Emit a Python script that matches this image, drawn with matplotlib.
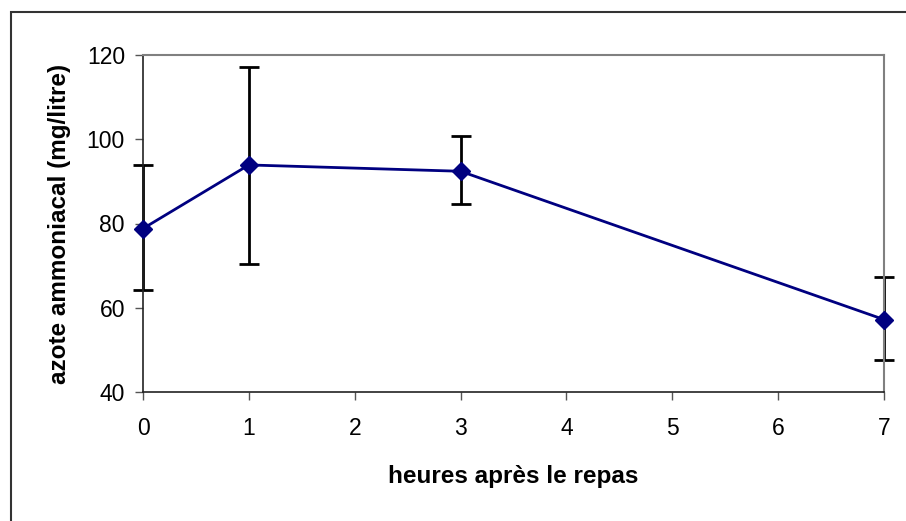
import matplotlib.pyplot as plt
from matplotlib.patches import Rectangle

plt.rcParams['font.family'] = ['Liberation Sans', 'DejaVu Sans']

# data
hours = [0, 1, 3, 7]
nh3 = [78.8, 93.9, 92.4, 57.2]
err_low = [64.2, 70.4, 84.6, 47.7]
err_high = [93.9, 117.2, 100.7, 67.2]

yerr = [[m - lo for m, lo in zip(nh3, err_low)],
        [hi - m for m, hi in zip(nh3, err_high)]]

fig = plt.figure(figsize=(9.06, 5.21), dpi=100)
ax = fig.add_axes([143 / 906, 1 - 392 / 521, 741 / 906, 337 / 521])

# outer chart border (runs off the right and bottom edges)
fig.patches.append(Rectangle((11 / 906, -0.1), 1.0, (521 - 12) / 521 + 0.1,
                             transform=fig.transFigure, fill=False,
                             edgecolor='#333333', linewidth=1.5))

_, caps, bars = ax.errorbar(hours, nh3, yerr=yerr, fmt='none', ecolor='black',
                            elinewidth=2, capsize=7, capthick=2, zorder=2)
for c in caps:
    c.set_clip_on(False)
for b in bars:
    b.set_clip_on(False)
ax.plot(hours, nh3, color='#000080', linewidth=2, marker='D', markersize=9,
        markerfacecolor='#000080', markeredgecolor='#000080', zorder=3, clip_on=False)

ax.set_xlim(0, 7)
ax.set_ylim(40, 120)
ax.set_xticks(range(0, 8))
ax.set_yticks(range(40, 121, 20))

for s in ['top', 'right']:
    ax.spines[s].set_color('#808080')
    ax.spines[s].set_linewidth(1.5)
for s in ['left', 'bottom']:
    ax.spines[s].set_color('#222222')
    ax.spines[s].set_linewidth(1.2)

ax.tick_params(direction='out', length=6, width=1, color='#555555', labelsize=16.5)
ax.tick_params(axis='y', pad=7)
ax.tick_params(axis='x', pad=12)

ax.set_xlabel('heures après le repas', fontsize=17.5, fontweight='bold', labelpad=18)
ax.set_ylabel('azote ammoniacal (mg/litre)', fontsize=17.5, fontweight='bold', labelpad=11)

fig.savefig('out.png', dpi=100)
